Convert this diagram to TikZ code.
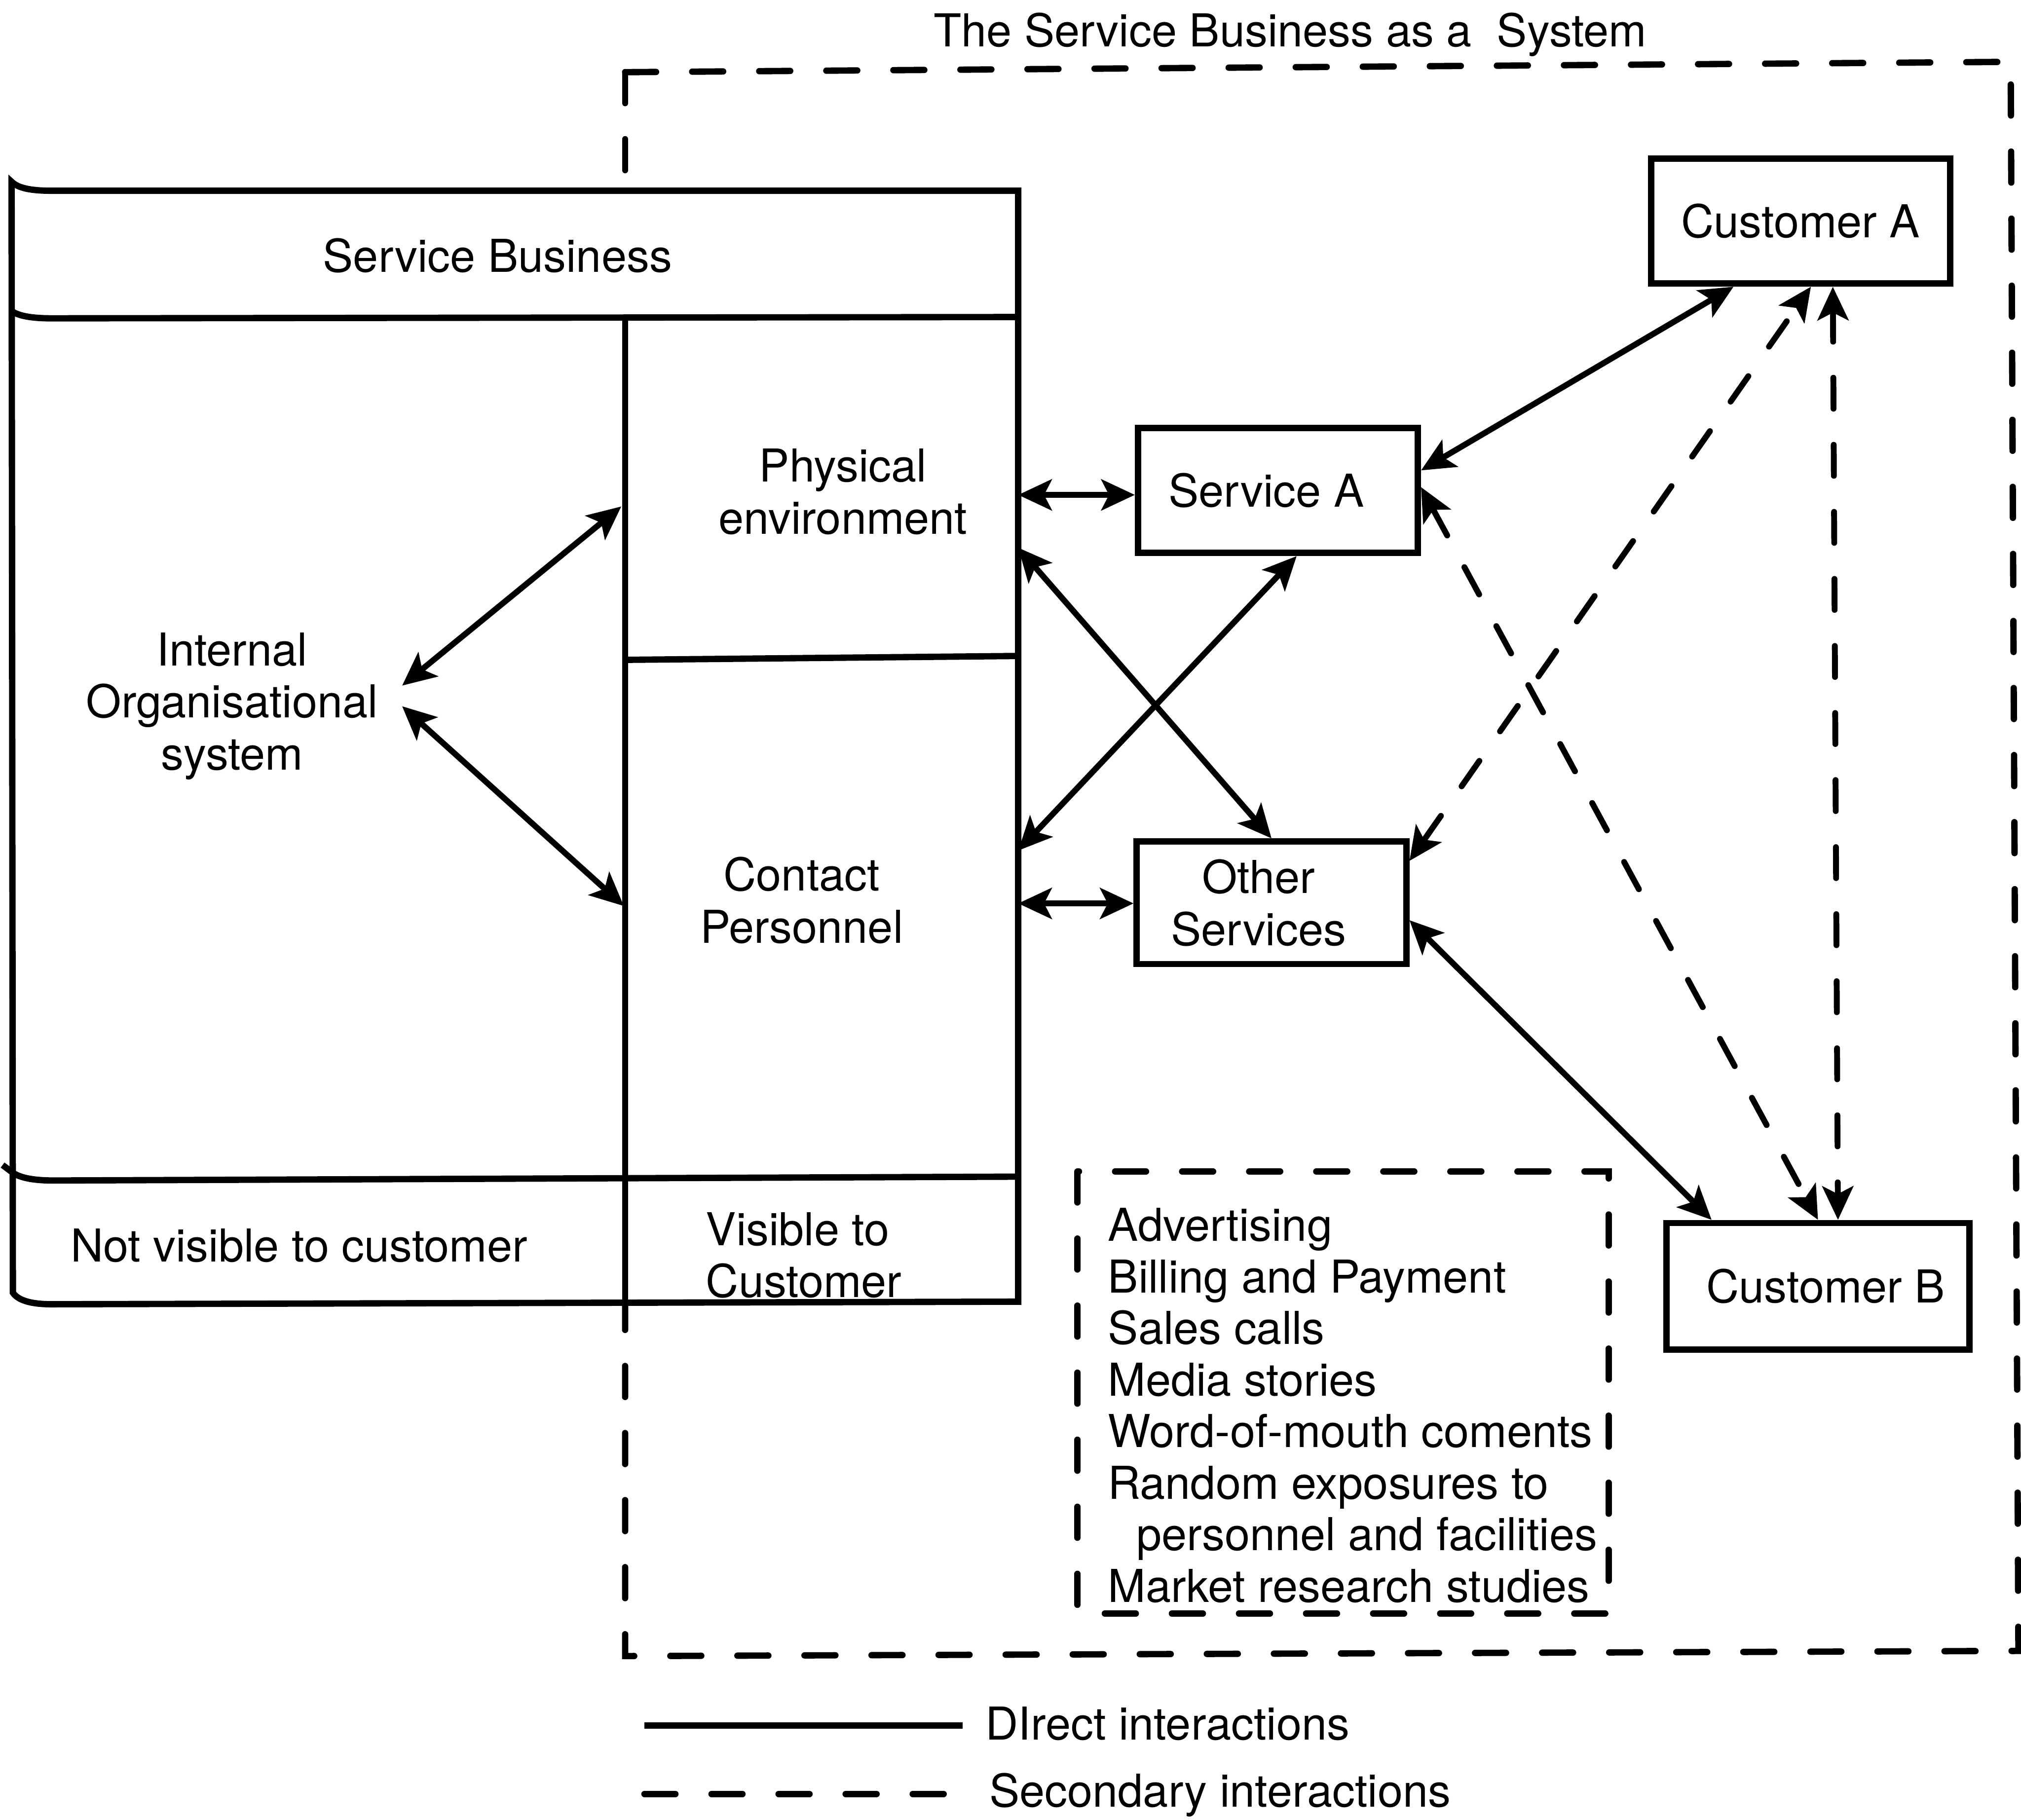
\documentclass[tikz,border=0pt]{standalone}
\usepackage{fontspec}
\setmainfont{TeX Gyre Heros}
\usetikzlibrary{arrows.meta}

\begin{document}
\begin{tikzpicture}[x=0.01cm, y=-0.01cm,
  >={Stealth[length=2.6mm,width=2.4mm,inset=0.6mm]},
  outline/.style={line width=1.4pt},
  dashline/.style={line width=1.4pt, line cap=round, dash pattern=on 0.24cm off 0.28cm},
  txt/.style={font=\fontsize{10}{11.5}\selectfont, inner sep=0pt},
  svcbox/.style={draw, line width=1.4pt, font=\fontsize{10}{11.5}\selectfont, align=center, inner sep=0pt},
  directlink/.style={line width=1.3pt, <->},
  secondlink/.style={line width=1.3pt, <->, line cap=round, dash pattern=on 0.24cm off 0.28cm},
]
\useasboundingbox (0,0) rectangle (1568,1412);

% title of the system boundary
\node[txt, anchor=base] (title) at (1001,36) {The Service Business as a\ \ System};

% dashed system boundary
\draw[dashline] (485,56) -- (485,148);
\draw[dashline] (485,56) -- (1560,48) -- (1566,1281) -- (485,1285) -- (485,1010);

% the service business block
\draw[outline] (9,141) .. controls (14,146) and (24,148) .. (40,148) -- (790,148)
  -- (790,1010) -- (40,1012) .. controls (24,1012) and (14,1009) .. (10,1003) -- cycle;
\draw[outline] (10,242) .. controls (15,245) and (24,247) .. (40,247) -- (790,246);
\draw[outline] (2,904) -- (10,910) .. controls (16,914) and (26,916) .. (42,916) -- (790,913);
\draw[outline] (485,247) -- (485,1010);
\draw[outline] (485,512) -- (790,509);

\node[txt, anchor=base] (sbiz) at (386,211) {Service Business};
\node[txt, align=center] (internal) at (180,548) {Internal\\Organisational\\system};
\node[txt, align=center] (phys) at (654,381.5) {Physical\\environment};
\node[txt, align=center] (contact) at (622,698.5) {Contact\\Personnel};
\node[txt, anchor=base] (hidden) at (232,979) {Not visible to customer};
\node[txt, align=left, anchor=west] (visible) at (547,974) {Visible to\\Customer};

% points on the block edges
\coordinate (io1) at (312,532);
\coordinate (io2) at (312,548);
\coordinate (dv1) at (482,393);
\coordinate (dv2) at (484,703);
\coordinate (pe1) at (790,384);
\coordinate (pe2) at (790,425);
\coordinate (cp1) at (790,660);
\coordinate (cp2) at (790,701);

% services and customers (the trailing kerns set each label a little left of centre)
\node[svcbox, minimum width=2.17cm, minimum height=0.97cm] (sa) at (991.5,380.5) {Service A\kern0.18cm};
\node[svcbox, minimum width=2.09cm, minimum height=0.95cm] (os) at (986.5,700.5) {Other\kern0.2cm\\Services\kern0.2cm};
\node[svcbox, minimum width=2.32cm, minimum height=0.97cm] (ca) at (1397,171.5) {Customer A};
\node[svcbox, minimum width=2.35cm, minimum height=0.98cm] (cb) at (1410.5,998) {\kern0.12cm Customer B};

% secondary contact points
\draw[dashline] (836,909) rectangle (1248,1252);
\foreach \i/\t/\x in {0/Advertising/859, 1/Billing and Payment/859, 2/Sales calls/859,
    3/Media stories/859, 4/Word-of-mouth coments/859, 5/Random exposures to/859,
    6/personnel and facilities/881, 7/Market research studies/859}
  \node[txt, anchor=base west] (item\i) at (\x,963+40*\i) {\t};

% direct interactions
\draw[directlink] (io1) -- (dv1);
\draw[directlink] (io2) -- (dv2);
\draw[directlink] (pe1) -- (sa.west |- pe1);
\draw[directlink] (cp2) -- (os.west |- cp2);
\draw[directlink] (pe2) -- (os.north);
\draw[directlink] (cp1) -- ([xshift=0.145cm]sa.south);
\draw[directlink] ([yshift=0.155cm]sa.east) -- ([xshift=-0.52cm]ca.south);
\draw[directlink] ([yshift=-0.135cm]os.east) -- ([xshift=-0.825cm]cb.north);

% secondary interactions
\draw[secondlink] ([yshift=0.025cm]sa.east) -- (cb.north);
\draw[secondlink] ([yshift=0.325cm]os.east) -- ([xshift=0.08cm]ca.south);
\draw[secondlink] ([xshift=0.25cm]ca.south) -- ([xshift=0.155cm]cb.north);

% legend
\coordinate (lga) at (500,1339);
\coordinate (lgb) at (747,1339);
\coordinate (lgc) at (500,1392);
\coordinate (lgd) at (736,1392);
\draw[line width=1.4pt] (lga) -- (lgb);
\draw[dashline] (lgc) -- (lgd);
\node[txt, anchor=base west] (lgdirect) at (764,1350) {DIrect interactions};
\node[txt, anchor=base west] (lgsecond) at (767,1402) {Secondary interactions};
\end{tikzpicture}
\end{document}
